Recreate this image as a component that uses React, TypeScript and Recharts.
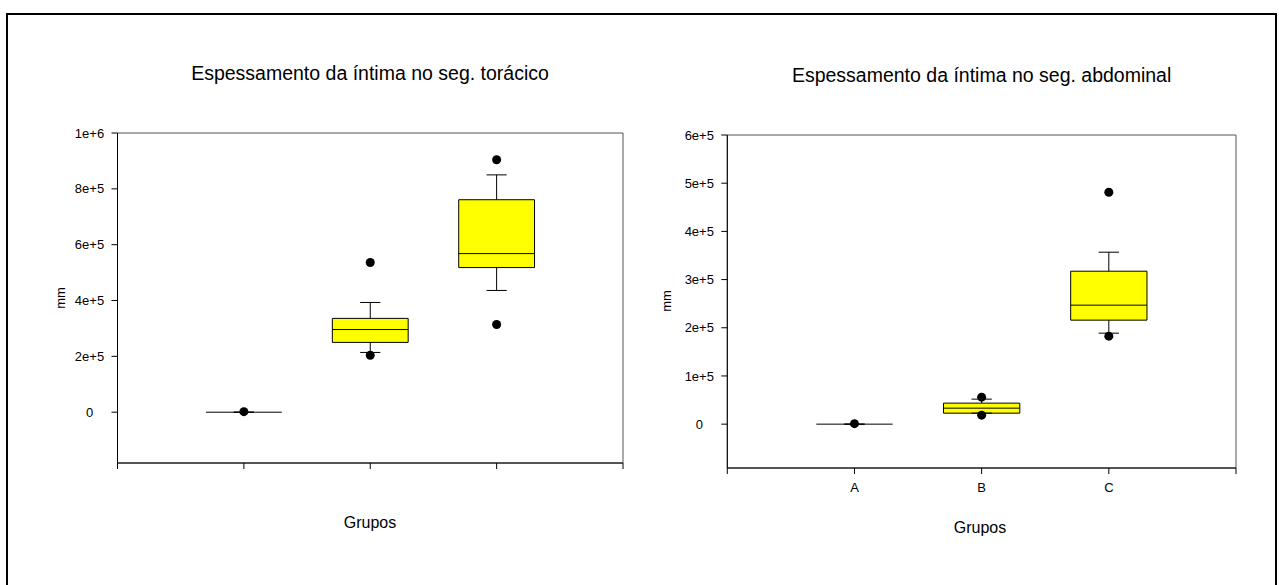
import React from 'react';
import { ComposedChart, XAxis, YAxis, Scatter, ReferenceArea, ReferenceLine } from 'recharts';

const FONT = '"Liberation Sans", Arial, sans-serif';

const groups = ['A', 'B', 'C'];
const groupPos = [1, 2, 3];
const xTicks = [0, 1, 2, 3, 4];

// segmento torácico
const thorQ1 = [0, 250000, 518000];
const thorMedian = [0, 296000, 568000];
const thorQ3 = [0, 336000, 761000];
const thorLow = [0, 214000, 436000];
const thorHigh = [0, 393000, 850000];
const thorOutliers = [[2000], [536000, 204000], [904000, 314000]];
const thorTicks = [0, 200000, 400000, 600000, 800000, 1000000];
const thorDomain = [-182000, 1000000];

// segmento abdominal
const abdQ1 = [0, 22800, 215800];
const abdMedian = [0, 33200, 246900];
const abdQ3 = [0, 43600, 317400];
const abdLow = [0, 22800, 188800];
const abdHigh = [0, 51900, 356800];
const abdOutliers = [[1000], [56000, 18700], [481300, 182600]];
const abdTicks = [0, 100000, 200000, 300000, 400000, 500000, 600000];
const abdDomain = [-91000, 600000];

const BOX_HALF = 0.3;
const CAP_HALF = 0.08;

const fmtExp = (v: number) => (v === 0 ? '0' : v.toExponential());

const YTick = (props: any) => (
  <text x={props.x - 20} y={props.y} dy="0.355em" textAnchor="middle" fontSize={13} fill="#000" fontFamily={FONT}>
    {fmtExp(props.payload.value)}
  </text>
);

const Dot = (p: any) => <circle cx={p.cx} cy={p.cy} r={4.5} fill="#000" />;

interface PanelProps {
  q1: number[];
  median: number[];
  q3: number[];
  low: number[];
  high: number[];
  outliers: number[][];
  yTicks: number[];
  yDomain: number[];
  showLabels: boolean;
  width: number;
  margin: { top: number; right: number; bottom: number; left: number };
}

const BoxPanel: React.FC<PanelProps> = ({ q1, median, q3, low, high, outliers, yTicks, yDomain, showLabels, width, margin }) => {
  const dots = outliers.flatMap((vals, i) => vals.map((v) => ({ x: groupPos[i], y: v })));

  const marks: React.ReactElement[] = [];
  groupPos.forEach((x, i) => {
    // whiskers
    marks.push(<ReferenceLine key={`wu${i}`} segment={[{ x, y: q3[i] }, { x, y: high[i] }]} stroke="#000" />);
    marks.push(<ReferenceLine key={`wl${i}`} segment={[{ x, y: q1[i] }, { x, y: low[i] }]} stroke="#000" />);
    marks.push(<ReferenceLine key={`cu${i}`} segment={[{ x: x - CAP_HALF, y: high[i] }, { x: x + CAP_HALF, y: high[i] }]} stroke="#000" />);
    marks.push(<ReferenceLine key={`cl${i}`} segment={[{ x: x - CAP_HALF, y: low[i] }, { x: x + CAP_HALF, y: low[i] }]} stroke="#000" />);
    // box
    marks.push(
      <ReferenceArea key={`b${i}`} x1={x - BOX_HALF} x2={x + BOX_HALF} y1={q1[i]} y2={q3[i]} fill="#ffff00" fillOpacity={1} stroke="#000" strokeWidth={1} />
    );
    // median
    marks.push(<ReferenceLine key={`m${i}`} segment={[{ x: x - BOX_HALF, y: median[i] }, { x: x + BOX_HALF, y: median[i] }]} stroke="#000" />);
  });

  return (
    <ComposedChart width={width} height={585} margin={margin} data={dots}>
      <XAxis
        type="number"
        dataKey="x"
        domain={[0, 4]}
        ticks={xTicks}
        interval={0}
        height={30}
        tickSize={6}
        tickMargin={9}
        axisLine={{ stroke: '#000' }}
        tickLine={{ stroke: '#000' }}
        tick={{ fontSize: 13, fill: '#000', fontFamily: FONT }}
        tickFormatter={(v: number) => (showLabels ? groups[groupPos.indexOf(v)] ?? '' : '')}
      />
      <YAxis
        type="number"
        domain={yDomain}
        ticks={yTicks}
        interval={0}
        width={60}
        tickSize={6}
        axisLine={{ stroke: '#000' }}
        tickLine={{ stroke: '#000' }}
        tick={<YTick />}
      />
      <ReferenceArea x1={0} x2={4} y1={yDomain[0]} y2={yDomain[1]} fill="none" fillOpacity={0} stroke="#555" />
      {marks}
      <Scatter dataKey="y" isAnimationActive={false} shape={Dot} />
    </ComposedChart>
  );
};

const label = (text: string, x: number, y: number, size: number, rotate = false) => (
  <div
    style={{
      position: 'absolute',
      left: x,
      top: y,
      transform: `translate(-50%, -50%)${rotate ? ' rotate(-90deg)' : ''}`,
      fontFamily: FONT,
      fontSize: size,
      color: '#000',
      whiteSpace: 'nowrap',
      lineHeight: 1,
    }}
  >
    {text}
  </div>
);

export default function App() {
  return (
    <div style={{ position: 'absolute', left: 0, top: 0, width: 1279, height: 585, overflow: 'hidden', background: '#fff' }}>
      <div
        style={{
          position: 'absolute',
          left: 6,
          top: 13,
          width: 1271,
          height: 700,
          border: '2px solid #000',
          boxSizing: 'border-box',
        }}
      />
      <div style={{ position: 'absolute', left: 0, top: 0 }}>
        <BoxPanel
          q1={thorQ1}
          median={thorMedian}
          q3={thorQ3}
          low={thorLow}
          high={thorHigh}
          outliers={thorOutliers}
          yTicks={thorTicks}
          yDomain={thorDomain}
          showLabels={false}
          width={640}
          margin={{ top: 133, right: 17, bottom: 92, left: 57.5 }}
        />
      </div>
      <div style={{ position: 'absolute', left: 640, top: 0 }}>
        <BoxPanel
          q1={abdQ1}
          median={abdMedian}
          q3={abdQ3}
          low={abdLow}
          high={abdHigh}
          outliers={abdOutliers}
          yTicks={abdTicks}
          yDomain={abdDomain}
          showLabels={true}
          width={639}
          margin={{ top: 135, right: 43, bottom: 87, left: 27.3 }}
        />
      </div>
      {label('Espessamento da íntima no seg. torácico', 370, 74, 19.5)}
      {label('Espessamento da íntima no seg. abdominal', 981.6, 76, 19.5)}
      {label('Grupos', 370, 523, 16)}
      {label('Grupos', 980, 528, 16)}
      {label('mm', 60, 298, 13, true)}
      {label('mm', 666, 301, 13, true)}
    </div>
  );
}
